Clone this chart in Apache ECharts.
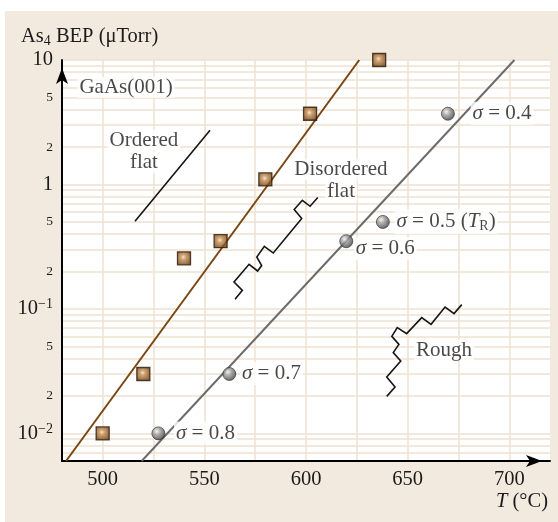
<!DOCTYPE html>
<html>
<head>
<meta charset="utf-8">
<script src="https://cdn.jsdelivr.net/npm/echarts@6/dist/echarts.min.js"></script>
<style>
  html, body { margin: 0; padding: 0; background: #fff; }
  #panel { position: absolute; left: 5px; top: 11px; width: 553px; height: 511px; background: #f2eadf; }
</style>
</head>
<body>
<div id="panel"></div>
<script>
// GaAs(001): As4 beam-equivalent pressure versus substrate temperature

// transition points (squares) and the fitted boundary through them
const squareT = [500, 520, 540, 558, 580, 602, 636];
const squareBEP = [0.01, 0.03, 0.255, 0.35, 1.1, 3.7, 10];
const orderLineT = [482, 626.2];
const orderLineBEP = [0.006, 10];

// roughness points (spheres), their sigma values and the fitted boundary
const sphereT = [527.4, 562.3, 619.8, 637.8, 669.8];
const sphereBEP = [0.01, 0.03, 0.35, 0.5, 3.7];
const sphereSigma = ['0.8', '0.7', '0.6', '0.5', '0.4'];
const sigmaLineT = [519.2, 702.5];
const sigmaLineBEP = [0.006, 10];

// schematic surface profiles
const orderedT = [515.9, 552.8];
const orderedBEP = [0.506, 2.728];
const disorderedT = [565.1, 568.7, 564.6, 572.0, 576.2, 578.2, 575.8, 579.5, 583.9, 597.9, 594.2, 598.2, 602.0, 605.8];
const disorderedBEP = [0.1194, 0.1411, 0.1645, 0.2284, 0.2017, 0.2229, 0.2614, 0.3186, 0.2813, 0.5319, 0.6284, 0.7464, 0.668, 0.7845];
const roughT = [639.7, 643.8, 639.7, 646.6, 642.9, 645.7, 642.2, 644.9, 649.5, 656.9, 661.5, 668.4, 672.8, 676.6];
const roughBEP = [0.01983, 0.02356, 0.02836, 0.03814, 0.04454, 0.05193, 0.06021, 0.07074, 0.06329, 0.08512, 0.07517, 0.1036, 0.0917, 0.1083];

// region names
const noteTexts = ['GaAs(001)', 'Ordered\nflat', 'Disordered\nflat', 'Rough'];
const noteT = [511.5, 520.3, 617.2, 667.9];
const noteBEP = [6.04, 1.85, 1.07, 0.0465];

// axis ticks
const xLabelValues = [500, 550, 600, 650, 700];
const xGridValues = [500, 525, 550, 575, 600, 625, 650, 675, 700];
const yLabelValues = [0.01, 0.02, 0.05, 0.1, 0.2, 0.5, 1, 2, 5, 10];
const yLabelTexts = ['10{sup|\u22122}', '{m|2}', '{m|5}', '10{sup|\u22121}', '{m|2}', '{m|5}', '1', '{m|2}', '{m|5}', '10'];
const yGridValues = [0.006, 0.007, 0.008, 0.009,
  0.01, 0.02, 0.03, 0.04, 0.05, 0.06, 0.07, 0.08, 0.09,
  0.1, 0.2, 0.3, 0.4, 0.5, 0.6, 0.7, 0.8, 0.9,
  1, 2, 3, 4, 5, 6, 7, 8, 9, 10];

const SERIF = '"Liberation Serif", "DejaVu Serif", serif';
const INK = '#1c1a1a';
const GRID = '#eee2d0';

const zip = (a, b) => a.map((v, i) => [v, b[i]]);

// shaded fills for the square and sphere markers
const squareFill = {
  type: 'radial', x: 0.45, y: 0.42, r: 0.72,
  colorStops: [
    { offset: 0, color: '#f2dfc3' },
    { offset: 0.25, color: '#c38d52' },
    { offset: 0.65, color: '#8a521f' },
    { offset: 1, color: '#4e2b07' }
  ]
};
const sphereFill = {
  type: 'radial', x: 0.38, y: 0.35, r: 0.72,
  colorStops: [
    { offset: 0, color: '#f0f0f0' },
    { offset: 0.35, color: '#9c9c9c' },
    { offset: 1, color: '#303030' }
  ]
};

// label placement beside each sphere: [dx, dy] from the sphere centre
const sigmaLabelShift = [[16, 0], [11, 0], [8, 8], [12, 0], [23, 0]];
const SYM = 13;

const sigmaText = s => s === '0.5'
  ? '{i|\u03c3} = 0.5 ({i|T}{sub|R})'
  : '{i|\u03c3} = ' + s;

const labelRich = {
  i: { fontFamily: SERIF, fontStyle: 'italic', fontSize: 21, color: INK },
  sub: { fontFamily: SERIF, fontSize: 14, color: INK, padding: [9, 0, 0, 0] }
};

const chart = echarts.init(document.getElementById('panel'), null, { renderer: 'canvas' });

chart.setOption({
  backgroundColor: 'transparent',
  animation: false,
  title: [
    {
      text: 'As{sub|4} BEP (\u03bcTorr)',
      left: 16, top: 14, padding: 0,
      textStyle: {
        fontFamily: SERIF, fontSize: 20.5, fontWeight: 'normal', color: INK,
        rich: { sub: { fontFamily: SERIF, fontSize: 14, color: INK, padding: [9, 0, 0, 0] } }
      }
    },
    {
      text: '{i|T} (\u00b0C)',
      right: 10, bottom: 10, padding: 0,
      textStyle: {
        fontFamily: SERIF, fontSize: 20.5, fontWeight: 'normal', color: INK,
        rich: { i: { fontFamily: SERIF, fontStyle: 'italic', fontSize: 20.5, color: INK } }
      }
    }
  ],
  grid: {
    left: 57, top: 49, right: 8, bottom: 61,
    show: true, backgroundColor: '#ffffff', borderWidth: 0
  },
  xAxis: {
    type: 'value', min: 480, max: 720,
    axisLine: {
      show: true, symbol: ['none', 'arrow'], symbolSize: [9, 16], symbolOffset: [0, -8],
      lineStyle: { color: '#000', width: 2 }
    },
    axisTick: { show: false, customValues: xGridValues },
    axisLabel: {
      customValues: xLabelValues, fontFamily: SERIF, fontSize: 20.5, color: INK, margin: 8
    },
    splitLine: { show: true, lineStyle: { color: GRID, width: 1.5 } }
  },
  yAxis: {
    type: 'log', logBase: 10, min: 0.006, max: 10,
    axisLine: {
      show: true, symbol: ['none', 'arrow'], symbolSize: [9, 16], symbolOffset: [0, -8],
      lineStyle: { color: '#000', width: 2 }
    },
    axisTick: { show: false, customValues: yGridValues },
    axisLabel: {
      customValues: yLabelValues, margin: 9,
      fontFamily: SERIF, fontSize: 20.5, color: INK,
      formatter: v => {
        const i = yLabelValues.findIndex(u => Math.abs(Math.log10(u) - Math.log10(v)) < 1e-6);
        return i >= 0 ? yLabelTexts[i] : '';
      },
      rich: {
        sup: { fontFamily: SERIF, fontSize: 14, color: INK, padding: [0, 0, 9, 0] },
        m: { fontFamily: SERIF, fontSize: 13.5, color: INK }
      }
    },
    splitLine: { show: true, lineStyle: { color: GRID, width: 1.5 } }
  },
  series: [
    {
      type: 'line', data: zip(orderLineT, orderLineBEP), symbol: 'none', silent: true, z: 3,
      lineStyle: { color: '#7a4712', width: 2 }
    },
    {
      type: 'line', data: zip(sigmaLineT, sigmaLineBEP), symbol: 'none', silent: true, z: 3,
      lineStyle: { color: '#6c6c6c', width: 2 }
    },
    {
      type: 'line', data: zip(orderedT, orderedBEP), symbol: 'none', silent: true, z: 3,
      lineStyle: { color: '#151515', width: 1.6 }
    },
    {
      type: 'line', data: zip(disorderedT, disorderedBEP), symbol: 'none', silent: true, z: 3,
      lineStyle: { color: '#151515', width: 1.6, join: 'miter' }
    },
    {
      type: 'line', data: zip(roughT, roughBEP), symbol: 'none', silent: true, z: 3,
      lineStyle: { color: '#151515', width: 1.6, join: 'miter' }
    },
    {
      type: 'scatter', symbolSize: 0, silent: true, z: 4,
      data: noteTexts.map((t, i) => ({ name: t, value: [noteT[i], noteBEP[i]] })),
      label: {
        show: true, position: 'inside', align: 'center', verticalAlign: 'middle',
        formatter: p => p.name.split('\n').map(s => '{b|' + s + '}').join('\n'),
        rich: {
          b: {
            fontFamily: SERIF, fontSize: 21, color: INK, lineHeight: 22,
            backgroundColor: '#ffffff', padding: [0, 2]
          }
        }
      }
    },
    {
      type: 'scatter', symbol: 'rect', symbolSize: SYM, z: 6, clip: false,
      data: zip(squareT, squareBEP),
      itemStyle: { color: squareFill, borderColor: '#2a1907', borderWidth: 1.3 }
    },
    {
      type: 'scatter', symbol: 'circle', symbolSize: SYM, z: 6,
      data: sphereSigma.map((s, i) => ({
        name: s,
        value: [sphereT[i], sphereBEP[i]],
        label: {
          position: [SYM / 2 + sigmaLabelShift[i][0], SYM / 2 + sigmaLabelShift[i][1]]
        }
      })),
      itemStyle: { color: sphereFill, borderColor: '#2a2a2a', borderWidth: 0.8 },
      label: {
        show: true, align: 'left', verticalAlign: 'middle',
        fontFamily: SERIF, fontSize: 21, color: INK,
        backgroundColor: '#ffffff', padding: [1, 2],
        formatter: p => sigmaText(p.name),
        rich: labelRich
      }
    }
  ]
});
</script>
</body>
</html>
